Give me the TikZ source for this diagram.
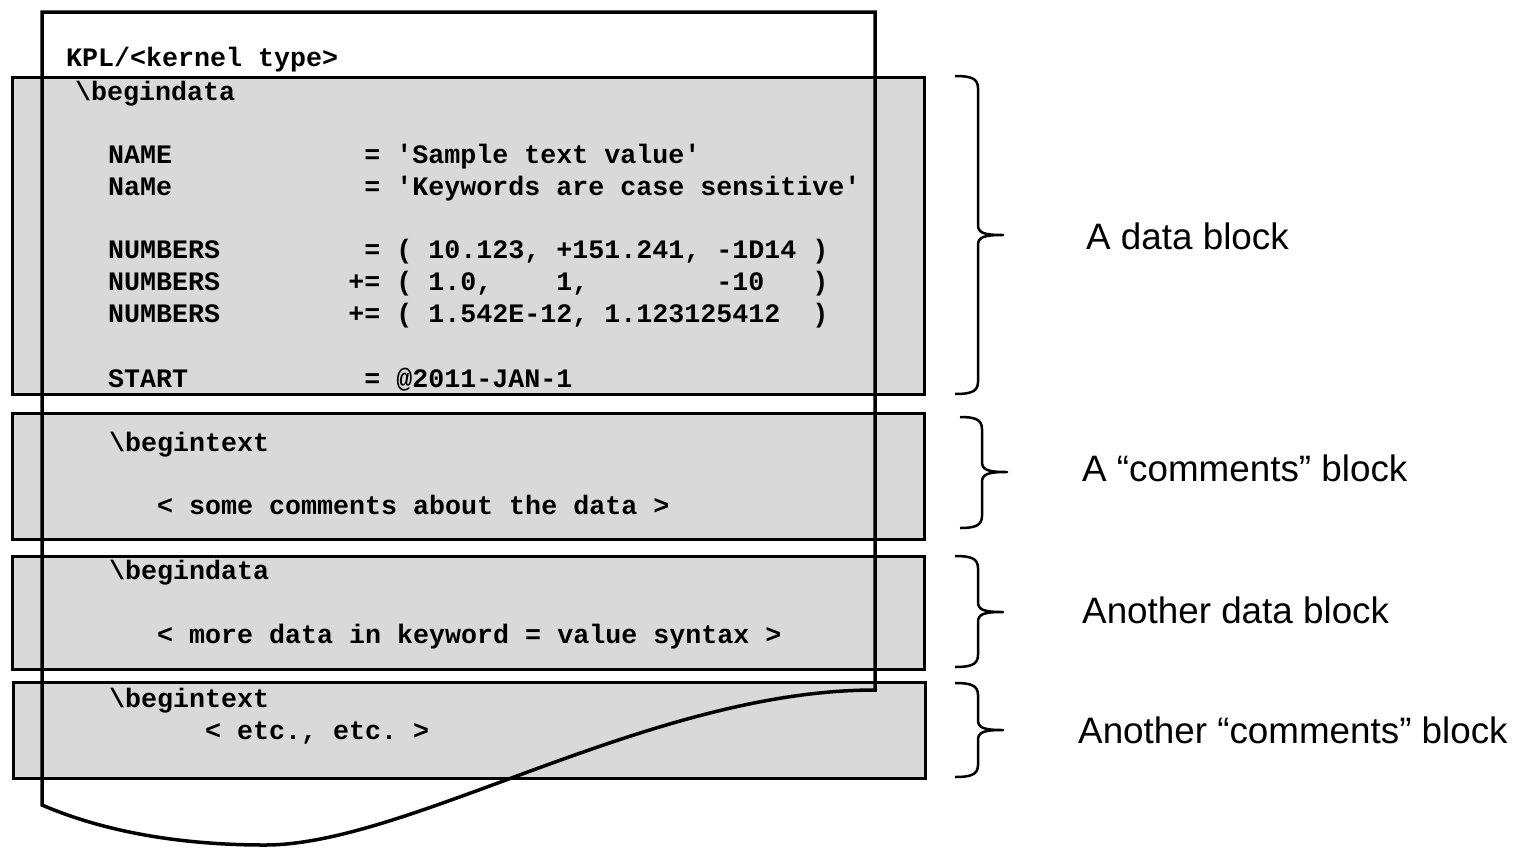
\documentclass[tikz,border=0pt]{standalone}
\usepackage{fontspec}
\setmonofont{Liberation Mono}
\newfontfamily\labelfont{Liberation Sans}
\definecolor{boxgray}{HTML}{D9D9D9}
\tikzset{
  blockbox/.style={draw=black, fill=boxgray, line width=2.5pt, inner sep=0pt, anchor=north west},
  code/.style={font=\ttfamily\bfseries\fontsize{26.67}{32}\selectfont, inner sep=0pt, anchor=base west},
  lbl/.style={font=\labelfont\fontsize{36.8}{44}\selectfont, inner sep=0pt, anchor=base west},
  pageline/.style={line width=3.5pt, line join=miter},
  bracel/.style={line width=2.5pt, line join=round}
}
% x0 (end), xv (vertical), xt (tip), top, bottom, tip y
\newcommand\kbrace[6]{%
  \draw[bracel] (#1,#4) .. controls ({#2-8},#4) and (#2,{#4+2}) .. (#2,{#4+12})
    -- (#2,{#6-10}) .. controls (#2,{#6-2}) and ({#2+6},#6) .. (#3,#6)
    .. controls ({#2+6},#6) and (#2,{#6+2}) .. (#2,{#6+10})
    -- (#2,{#5-12}) .. controls (#2,{#5-2}) and ({#2-8},#5) .. (#1,#5);}
\begin{document}
\begin{tikzpicture}[x=1pt,y=-1pt]
\useasboundingbox (0,0) rectangle (1517,847);
% blocks
\node[blockbox, minimum width=912pt, minimum height=317pt] (box1) at (11,76) {};
\node[blockbox, minimum width=912pt, minimum height=126pt] (box2) at (11,412) {};
\node[blockbox, minimum width=912pt, minimum height=113pt] (box3) at (11,555) {};
\node[blockbox, minimum width=912pt, minimum height=96pt] (box4) at (12,681) {};
% page outline
\draw[pageline] (875,690) .. controls (650,690) and (410,845) .. (265,845)
  .. controls (175,845) and (100,830) .. (42,805) -- (42,12) -- (875,12) -- cycle;
% code text
\node[code] (kpl) at (66,66) {KPL/<kernel type>};
\node[code] (bd1) at (75,100) {\textbackslash begindata};
\node[code] (l1) at (108,163) {NAME~~~~~~~~~~~~=~'Sample text value'};
\node[code] (l2) at (108,195) {NaMe~~~~~~~~~~~~=~'Keywords are case sensitive'};
\node[code] (l3) at (108,258) {NUMBERS~~~~~~~~~=~(~10.123,~+151.241,~-1D14~)};
\node[code] (l4) at (108,290) {NUMBERS~~~~~~~~+=~(~1.0,~~~~1,~~~~~~~~-10~~~)};
\node[code] (l5) at (108,322) {NUMBERS~~~~~~~~+=~(~1.542E-12,~1.123125412~~)};
\node[code] (l6) at (108,387) {START~~~~~~~~~~~=~@2011-JAN-1};
\node[code] (bt1) at (109,451) {\textbackslash begintext};
\node[code] (c1) at (157,514) {<~some comments about the data~>};
\node[code] (bd2) at (109,579) {\textbackslash begindata};
\node[code] (c2) at (157,643) {<~more data in keyword = value syntax~>};
\node[code] (bt2) at (109,707) {\textbackslash begintext};
\node[code] (c3) at (205,739) {<~etc., etc.~>};
% braces
\kbrace{955}{978}{1003}{76}{394}{235}
\kbrace{960}{982}{1007}{417}{528}{472}
\kbrace{955}{978}{1003}{556}{667}{612}
\kbrace{955}{978}{1003}{683}{777}{730}
% labels
\node[lbl] (lab1) at (1086,249) {A data block};
\node[lbl] (lab2) at (1082,481) {A “comments” block};
\node[lbl] (lab3) at (1082,623) {Another data block};
\node[lbl] (lab4) at (1078,743) {Another “comments” block};
\end{tikzpicture}
\end{document}
